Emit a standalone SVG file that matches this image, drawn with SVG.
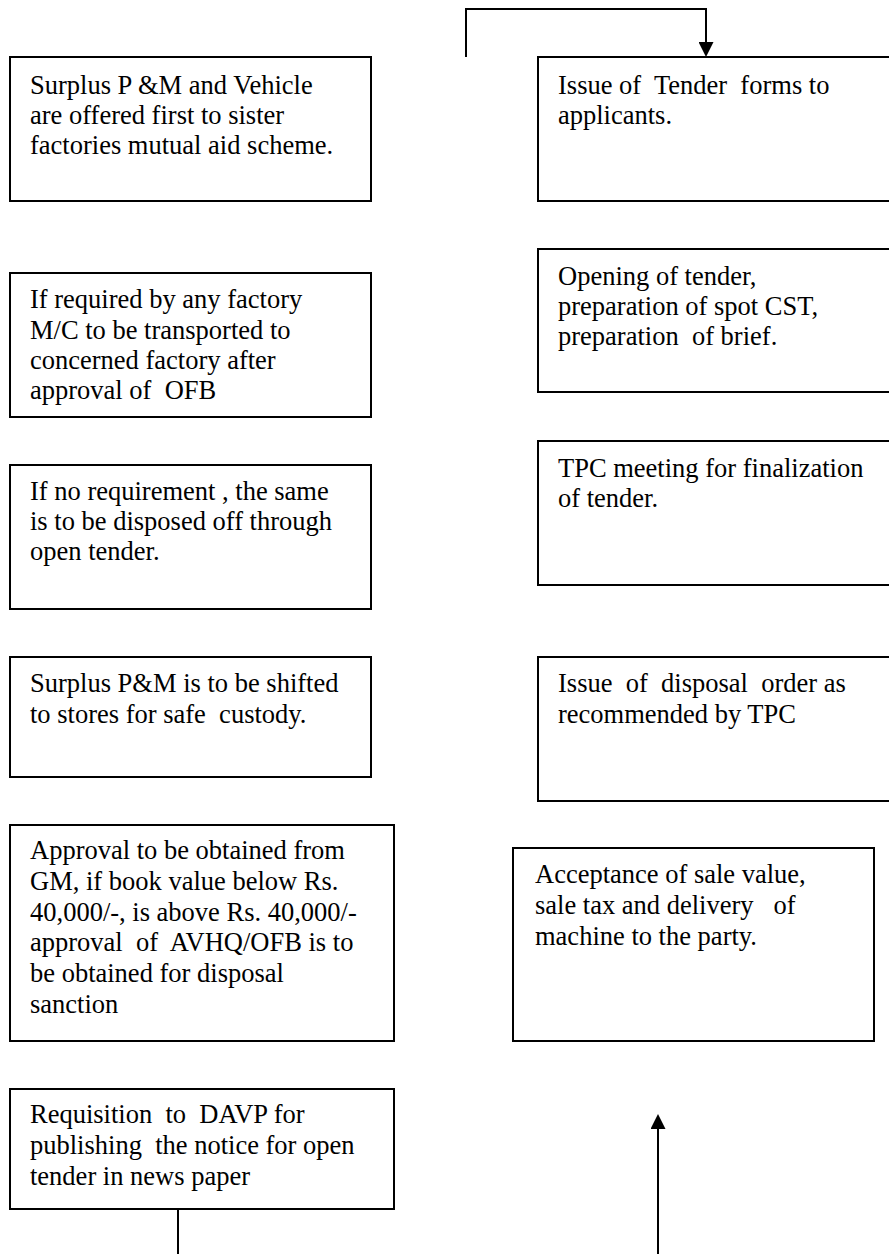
<svg xmlns="http://www.w3.org/2000/svg" width="889" height="1254" viewBox="0 0 889 1254">
<style>
.box{fill:#fff;stroke:#000;stroke-width:2}
.t{font-family:"Liberation Serif","Times New Roman",serif;font-size:26.5px;fill:#000;white-space:pre}
.c{fill:none;stroke:#000;stroke-width:2}
</style>
<defs>
<marker id="arr" viewBox="0 0 15 15" refX="0" refY="7.5" markerWidth="15" markerHeight="15" orient="auto" markerUnits="userSpaceOnUse">
<path d="M0,0 L15,7.5 L0,15 Z" fill="#000"/>
</marker>
</defs>
<rect width="889" height="1254" fill="#fff"/>
<g id="connectors">
<path class="c" d="M466,57 V9 H706 V42" marker-end="url(#arr)"/>
<path class="c" d="M178,1209 V1254"/>
<path class="c" d="M658,1254 V1129" marker-end="url(#arr)"/>
</g>
<g id="n1">
<rect class="box" x="10" y="57" width="361" height="144"/>
<text class="t" x="30" y="94">Surplus P &amp;M and Vehicle</text>
<text class="t" x="30" y="124">are offered first to sister</text>
<text class="t" x="30" y="154">factories mutual aid scheme.</text>
</g>
<g id="n2">
<rect class="box" x="10" y="273" width="361" height="144"/>
<text class="t" x="30" y="308">If required by any factory</text>
<text class="t" x="30" y="339">M/C to be transported to</text>
<text class="t" x="30" y="369">concerned factory after</text>
<text class="t" x="30" y="399">approval of  OFB</text>
</g>
<g id="n3">
<rect class="box" x="10" y="465" width="361" height="144"/>
<text class="t" x="30" y="500">If no requirement , the same</text>
<text class="t" x="30" y="530">is to be disposed off through</text>
<text class="t" x="30" y="560">open tender.</text>
</g>
<g id="n4">
<rect class="box" x="10" y="657" width="361" height="120"/>
<text class="t" x="30" y="692">Surplus P&amp;M is to be shifted</text>
<text class="t" x="30" y="723">to stores for safe  custody.</text>
</g>
<g id="n5">
<rect class="box" x="10" y="825" width="384" height="216"/>
<text class="t" x="30" y="859">Approval to be obtained from</text>
<text class="t" x="30" y="890">GM, if book value below Rs.</text>
<text class="t" x="30" y="921">40,000/-, is above Rs. 40,000/-</text>
<text class="t" x="30" y="951">approval  of  AVHQ/OFB is to</text>
<text class="t" x="30" y="982">be obtained for disposal</text>
<text class="t" x="30" y="1013">sanction</text>
</g>
<g id="n6">
<rect class="box" x="10" y="1089" width="384" height="120"/>
<text class="t" x="30" y="1123">Requisition  to  DAVP for</text>
<text class="t" x="30" y="1154">publishing  the notice for open</text>
<text class="t" x="30" y="1185">tender in news paper</text>
</g>
<g id="r1">
<rect class="box" x="538" y="57" width="361" height="144"/>
<text class="t" x="558" y="94">Issue of  Tender  forms to</text>
<text class="t" x="558" y="124">applicants.</text>
</g>
<g id="r2">
<rect class="box" x="538" y="249" width="361" height="143"/>
<text class="t" x="558" y="285">Opening of tender,</text>
<text class="t" x="558" y="315">preparation of spot CST,</text>
<text class="t" x="558" y="345">preparation  of brief.</text>
</g>
<g id="r3">
<rect class="box" x="538" y="441" width="361" height="144"/>
<text class="t" x="558" y="477">TPC meeting for finalization</text>
<text class="t" x="558" y="507">of tender.</text>
</g>
<g id="r4">
<rect class="box" x="538" y="657" width="361" height="144"/>
<text class="t" x="558" y="692">Issue  of  disposal  order as</text>
<text class="t" x="558" y="723">recommended by TPC</text>
</g>
<g id="r5">
<rect class="box" x="513" y="848" width="361" height="193"/>
<text class="t" x="535" y="883">Acceptance of sale value,</text>
<text class="t" x="535" y="914">sale tax and delivery   of</text>
<text class="t" x="535" y="945">machine to the party.</text>
</g>
</svg>
